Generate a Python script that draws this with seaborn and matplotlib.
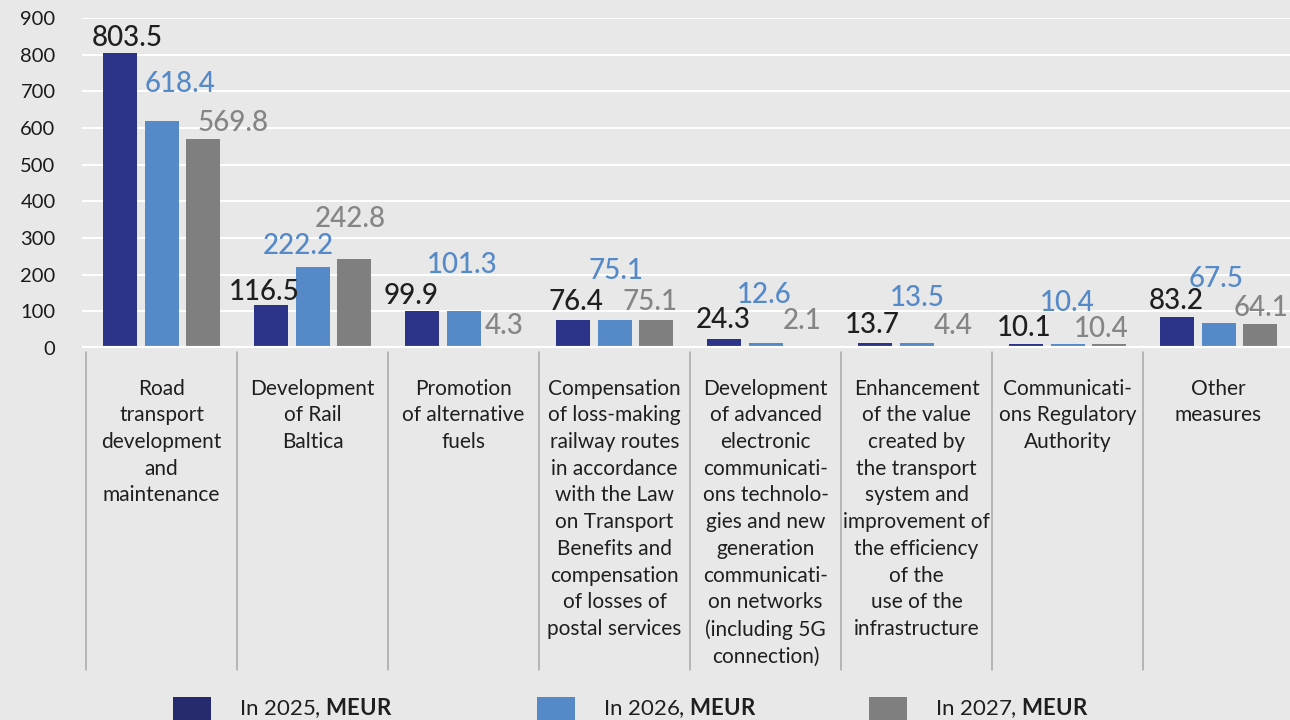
import matplotlib
matplotlib.use("Agg")
import matplotlib.pyplot as plt
import matplotlib.transforms as mtransforms
from matplotlib.patches import Rectangle
import seaborn as sns
import pandas as pd

categories = [
    "Road\ntransport\ndevelopment\nand\nmaintenance",
    "Development\nof Rail\nBaltica",
    "Promotion\nof alternative\nfuels",
    "Compensation\nof loss-making\nrailway routes\nin accordance\nwith the Law\non Transport\nBenefits and\ncompensation\nof losses of\npostal services",
    "Development\nof advanced\nelectronic\ncommunicati-\nons technolo-\ngies and new\ngeneration\ncommunicati-\non networks\n(including 5G\nconnection)",
    "Enhancement\nof the value\ncreated by\nthe transport\nsystem and\nimprovement of\nthe efficiency\nof the\nuse of the\ninfrastructure",
    "Communicati-\nons Regulatory\nAuthority",
    "Other\nmeasures",
]
years = ["2025", "2026", "2027"]
values_2025 = [803.5, 116.5, 99.9, 76.4, 24.3, 13.7, 10.1, 83.2]
values_2026 = [618.4, 222.2, 101.3, 75.1, 12.6, 13.5, 10.4, 67.5]
values_2027 = [569.8, 242.8, 4.3, 75.1, 2.1, 4.4, 10.4, 64.1]
yticks = [0, 100, 200, 300, 400, 500, 600, 700, 800, 900]

bar_colors = ["#2b3489", "#5589c7", "#7f7f80"]
label_colors = ["#1f1f1f", "#5589c7", "#858585"]
legend_colors = ["#252b6e", "#5589c7", "#7f7f7f"]

# manual label offsets (pixels) relative to bar top centre, per series
label_dx = [
    [7.5, -6.5, -10, 3.5, 0, -2.5, -1, -0.5],
    [18.5, -14.5, -1, 1, -1.5, 0.5, 0, -2],
    [29.5, -4.5, -1, -6.5, -5.5, -5, -8.5, 0.5],
]
label_dy = [
    [15.4, 13.3, 15.4, 18, 19.1, 18, 15.8, 16.5],
    [37.2, 20.5, 45.9, 49, 48.4, 45, 41.2, 44.2],
    [16.1, 40, 20.4, 18.5, 26.2, 20.4, 15.2, 16.5],
]

series = [values_2025, values_2026, values_2027]
df = pd.DataFrame({
    "category": [c for _ in years for c in categories],
    "year": [y for y in years for _ in categories],
    "value": [v for s in series for v in s],
})

sns.set_theme(style="white")
plt.rcParams["font.family"] = ["Lato", "DejaVu Sans"]
plt.rcParams["mathtext.fontset"] = "custom"
plt.rcParams["mathtext.rm"] = "Lato"
plt.rcParams["mathtext.bf"] = "Lato:bold"

BG = "#e8e8e8"
fig = plt.figure(figsize=(12.9, 7.2), dpi=100, facecolor=BG)
W, H = 1290, 720
ax = fig.add_axes([82 / W, 1 - 348 / H, 1 - 82 / W, (348 - 18) / H])
ax.set_facecolor(BG)

sns.barplot(data=df, x="category", y="value", hue="year", order=categories,
            hue_order=years, palette=bar_colors, width=0.834, gap=0.19,
            saturation=1, legend=False, ax=ax, errorbar=None, linewidth=0)

ax.set_ylim(0, 900)
ax.set_xlim(-0.5265, 7.4735)
ax.set_yticks(yticks)
ax.set_yticklabels([str(t) for t in yticks], fontsize=14.5, color="#1a1a1a")
ax.tick_params(axis="y", length=0, pad=19)
ax.tick_params(axis="x", length=0, pad=22)
ax.set_xticks(range(len(categories)))
ax.set_xticklabels(categories, fontsize=15, color="#1f1f1f", va="top",
                   ha="center", linespacing=1.42)
ax.set_xlabel("")
ax.set_ylabel("")
for s in ax.spines.values():
    s.set_visible(False)
ax.set_axisbelow(True)
for t in yticks:
    ax.axhline(t, color="white", lw=3 if t == 0 else 1.4, zorder=0.5 if t else 3)

# value labels
for si, cont in enumerate(ax.containers):
    for ci, bar in enumerate(cont):
        xc = bar.get_x() + bar.get_width() / 2
        h = bar.get_height()
        ax.annotate(f"{series[si][ci]:.1f}", xy=(xc, h),
                    xytext=(label_dx[si][ci], label_dy[si][ci]),
                    textcoords="offset pixels", ha="center", va="center",
                    fontsize=20, color=label_colors[si],
                    fontweight="medium", clip_on=False, annotation_clip=False)

# column separators
trans = mtransforms.blended_transform_factory(ax.transData, ax.transAxes)
for i in range(len(categories) + 1):
    ax.plot([i - 0.5, i - 0.5], [-4 / 330, -322 / 330], transform=trans,
            color="#a8a8a8", lw=1.1, clip_on=False)

# legend
leg_x = [173, 537, 869]
for i, y in enumerate(years):
    fig.add_artist(Rectangle((leg_x[i] / W, 0), 38 / W, 23 / H,
                             transform=fig.transFigure, color=legend_colors[i],
                             lw=0))
    fig.text((leg_x[i] + 66) / W, 1 - 708 / H, f"In {y}, $\\mathbf{{MEUR}}$",
             fontsize=16, color="#1f1f1f", va="center", ha="left")

fig.savefig("out.png", dpi=100, facecolor=BG)
